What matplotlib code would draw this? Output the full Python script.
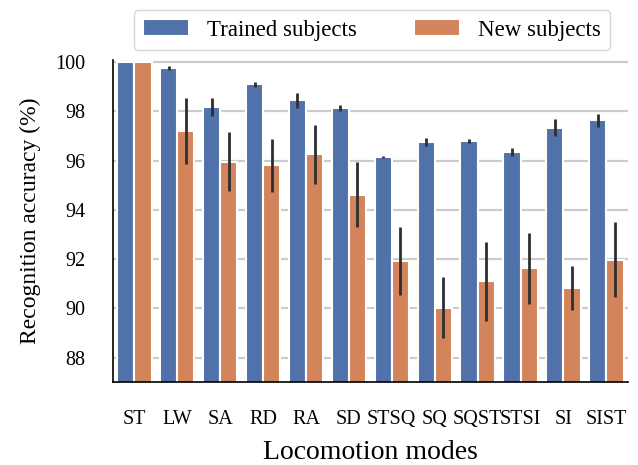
import numpy as np
import matplotlib.pyplot as plt

modes = ["ST", "LW", "SA", "RD", "RA", "SD", "STSQ", "SQ", "SQST", "STSI", "SI", "SIST"]
trained = [100.0, 99.74, 98.18, 99.1, 98.45, 98.12, 96.15, 96.76, 96.8, 96.35, 97.33, 97.63]
trained_err = [0.0, 0.08, 0.37, 0.1, 0.3, 0.12, 0.04, 0.17, 0.08, 0.17, 0.35, 0.25]
new = [100.0, 97.2, 95.95, 95.8, 96.25, 94.62, 91.92, 90.03, 91.1, 91.62, 90.83, 91.98]
new_err = [0.0, 1.33, 1.2, 1.08, 1.2, 1.33, 1.37, 1.25, 1.6, 1.45, 0.88, 1.52]

plt.rcParams['font.family'] = ['Liberation Serif', 'DejaVu Serif']

fig = plt.figure(figsize=(6.38, 4.65), dpi=100)
ax = fig.add_axes([0.177, 0.178, 0.807, 0.693])

x = np.arange(len(modes))
w = 0.4
ax.bar(x - w/2, trained, w, yerr=trained_err, color="#5171AA", edgecolor="white",
       linewidth=1.5, error_kw=dict(ecolor="0.18", elinewidth=2, capsize=0),
       label="Trained subjects", zorder=2)
ax.bar(x + w/2, new, w, yerr=new_err, color="#D4845A", edgecolor="white",
       linewidth=1.5, error_kw=dict(ecolor="0.18", elinewidth=2, capsize=0),
       label="New subjects", zorder=2)

ax.set_ylim(87, 100.08)
ax.set_xlim(-0.5, len(modes) - 0.5)
ax.set_yticks([88, 90, 92, 94, 96, 98, 100])
ax.set_xticks(x)
ax.set_xticklabels(modes)
ax.tick_params(length=0, labelsize=14.5, pad=20)
ax.yaxis.grid(True, color="#cccccc", linewidth=1.6, zorder=0)
ax.set_axisbelow(True)
for s in ["top", "right"]:
    ax.spines[s].set_visible(False)
for s in ["left", "bottom"]:
    ax.spines[s].set_color("black")
    ax.spines[s].set_linewidth(1.2)

ax.set_xlabel("Locomotion modes", fontsize=20, labelpad=8)
ax.set_ylabel("Recognition accuracy (%)", fontsize=17, labelpad=10)

ax.legend(loc="center", bbox_to_anchor=(0.503, 1.093), ncol=2, fontsize=16.5,
          columnspacing=2.5, handlelength=2.0, frameon=True, edgecolor="#cccccc")

fig.savefig("out.png", dpi=100)
